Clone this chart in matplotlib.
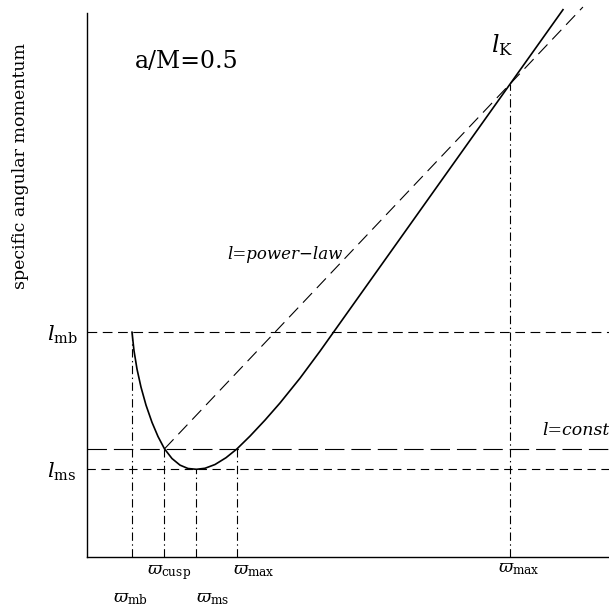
import matplotlib
matplotlib.use("Agg")
import matplotlib.pyplot as plt

plt.rcParams["font.family"] = ["DejaVu Serif"]
plt.rcParams["mathtext.fontset"] = "dejavuserif"
plt.rcParams["lines.scale_dashes"] = False

# Keplerian specific angular momentum l_K(varpi) for a/M = 0.5
varpi_K = [2.9146, 2.9553, 3.0163, 3.0976, 3.1992, 3.3211, 3.4431, 3.5752,
           3.7276, 3.8902, 4.0528, 4.2256, 4.3984, 4.6016, 4.8252, 5.0488,
           5.3130, 5.6179, 5.9228, 6.3293, 6.7358, 7.1423, 7.7520, 8.3618,
           9.1748, 9.9878, 10.5976, 11.2073, 11.6748]
l_K = [3.4132, 3.3793, 3.3454, 3.3122, 3.2792, 3.2475, 3.2215, 3.1988,
       3.1810, 3.1689, 3.1627, 3.1612, 3.1631, 3.1700, 3.1825, 3.1988,
       3.2222, 3.2516, 3.2831, 3.3287, 3.3783, 3.4300, 3.5075, 3.5850,
       3.6884, 3.7917, 3.8692, 3.9467, 4.0061]

# characteristic radii
varpi_mb = 2.9146
varpi_cusp = 3.5752
varpi_ms = 4.2256
varpi_max_in = 5.0488
varpi_max = 10.5976

# characteristic angular momenta
l_mb = 3.4132
l_ms = 3.1612
l_const = 3.1988

# power-law distribution, straight from the cusp through l_K(varpi_max)
varpi_pow = [3.5752, 12.08]
l_pow = [3.1988, 4.011]

fig = plt.figure(figsize=(6.09, 6.06), dpi=100)
ax = fig.add_axes([87 / 609, 49 / 606, 522 / 609, 544 / 606])
ax.set_xlim(2.0, 12.61)
ax.set_ylim(3.0, 4.0)
for s in ("top", "right"):
    ax.spines[s].set_visible(False)
for s in ("left", "bottom"):
    ax.spines[s].set_linewidth(1.0)
ax.set_xticks([])
ax.set_yticks([])

thin = 0.8
ax.plot(varpi_K, l_K, color="black", lw=1.2, clip_on=False, zorder=5,
        solid_joinstyle="round")
ax.plot(varpi_pow, l_pow, color="black", lw=thin, dashes=(9.5, 5), clip_on=False)

ax.axhline(l_mb, color="black", lw=thin, dashes=(7, 4))
ax.axhline(l_ms, color="black", lw=thin, dashes=(6, 4))
ax.axhline(l_const, color="black", lw=thin, dashes=(14, 5))

dashdot = (6, 2.5, 1, 2.5)
for w, top in [(varpi_mb, l_mb), (varpi_cusp, l_const), (varpi_ms, l_ms),
               (varpi_max_in, l_const), (varpi_max, l_K[varpi_K.index(varpi_max)])]:
    ax.plot([w, w], [3.0, top], color="black", lw=thin, dashes=dashdot)

# labels along the abscissa
for w, txt, dx, dy in [(varpi_cusp, r"$\varpi_{\rm cusp}$", -17.5, -17),
                       (varpi_max_in, r"$\varpi_{\rm max}$", -4, -17),
                       (varpi_mb, r"$\varpi_{\rm mb}$", -19, -45),
                       (varpi_ms, r"$\varpi_{\rm ms}$", -0.5, -45),
                       (varpi_max, r"$\varpi_{\rm max}$", -12, -15)]:
    ax.annotate(txt, xy=(w, 3.0), xycoords="data",
                xytext=(dx * 0.72, dy * 0.72), textcoords="offset points",
                ha="left", va="baseline", fontsize=12.5, annotation_clip=False)

# labels along the ordinate
for lv, txt in [(l_mb, r"$l_{\rm mb}$"), (l_ms, r"$l_{\rm ms}$")]:
    ax.annotate(txt, xy=(2.0, lv), xycoords="data",
                xytext=(-40 * 0.72, -3 * 0.72), textcoords="offset points",
                ha="left", va="center", fontsize=15, annotation_clip=False)

ax.text(10.22, 3.942, r"$l_{\rm K}$", fontsize=17, ha="left", va="center")
ax.text(2.98, 3.91, "a/M=0.5", fontsize=17, ha="left", va="center")
ax.text(4.85, 3.556, "l=power\u2212law", fontsize=12, style="italic",
        ha="left", va="center")
ax.text(11.26, 3.233, "l=const", fontsize=12.5, style="italic",
        ha="left", va="center", clip_on=False)

fig.text(21 / 609, 1 - 166 / 606, "specific angular momentum", rotation=90,
         ha="center", va="center", fontsize=12.5)

fig.savefig("out.png", dpi=100)
